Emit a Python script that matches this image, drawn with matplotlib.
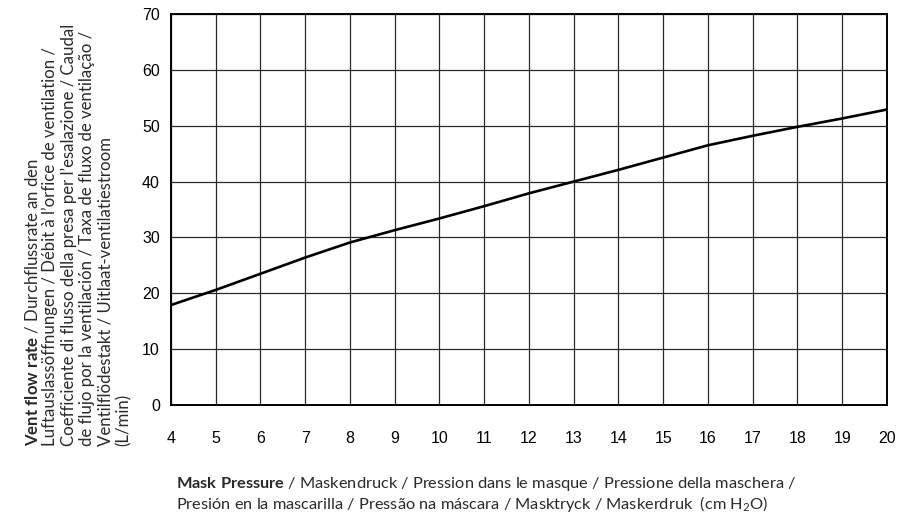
import matplotlib
matplotlib.use('Agg')
import matplotlib.pyplot as plt

# mask pressure (cm H2O) vs vent flow (L/min)
pressure = [4, 5, 6, 7, 8, 9, 10, 11, 12, 13, 14, 15, 16, 17, 18, 19, 20]
flow = [17.9, 20.6, 23.5, 26.4, 29.1, 31.3, 33.4, 35.6, 37.9, 40.0,
        42.1, 44.3, 46.5, 48.2, 49.8, 51.3, 52.9]

x_ticks = list(range(4, 21))
y_ticks = [0, 10, 20, 30, 40, 50, 60, 70]

y_label_lines = [
    r"$\mathbf{Vent\ flow\ rate}$ / Durchflussrate an den",
    "Luftauslassöffnungen / Débit à l’orfice de ventilation /",
    "Coefficiente di flusso della presa per l’esalazione / Caudal",
    "de flujo por la ventilación / Taxa de fluxo de ventilação /",
    "Ventilflödestakt / Uitlaat-ventilatiestroom",
    "(L/min)",
]
x_label_lines = [
    r"$\mathbf{Mask\ Pressure}$ / Maskendruck / Pression dans le masque / Pressione della maschera /",
    r"Presión en la mascarilla / Pressão na máscara / Masktryck / Maskerdruk  (cm H$_2$O)",
]

plt.rcParams['mathtext.fontset'] = 'custom'
plt.rcParams['mathtext.rm'] = 'Lato'
plt.rcParams['mathtext.bf'] = 'Lato:bold'
plt.rcParams['mathtext.it'] = 'Lato'
plt.rcParams['mathtext.default'] = 'regular'

W, H = 912, 516
fig = plt.figure(figsize=(W / 100, H / 100), dpi=100)
ax = fig.add_axes([171 / W, 1 - 405 / H, (887 - 171) / W, (405 - 14) / H])

ax.plot(pressure, flow, color='black', linewidth=1.9, zorder=3)

ax.set_xlim(4, 20)
ax.set_ylim(0, 70)
ax.set_xticks(x_ticks)
ax.set_yticks(y_ticks)
ax.grid(True, color='#2a2a2a', linewidth=0.9)
ax.tick_params(length=0, labelsize=11.5)
ax.tick_params(axis='x', pad=19)
ax.tick_params(axis='y', pad=8)
for lab in ax.get_xticklabels() + ax.get_yticklabels():
    lab.set_family(['Liberation Sans Narrow', 'Liberation Sans'])
for sp in ax.spines.values():
    sp.set_linewidth(1.4)

# rotated multi-line y label, baselines ~18.4 px apart
for i, line in enumerate(y_label_lines):
    xb = 37 + i * 18.4
    fig.text(xb / W, 1 - 446 / H, line, rotation=90, rotation_mode='anchor',
             ha='left', va='baseline', fontsize=12.1, family='Lato', color='#2a2a2a')

for i, line in enumerate(x_label_lines):
    yb = 488 + i * 21
    fig.text(176 / W, 1 - yb / H, line, ha='left', va='baseline',
             fontsize=11.8, family='Lato', color='#2a2a2a')

fig.savefig('out.png', dpi=100)
